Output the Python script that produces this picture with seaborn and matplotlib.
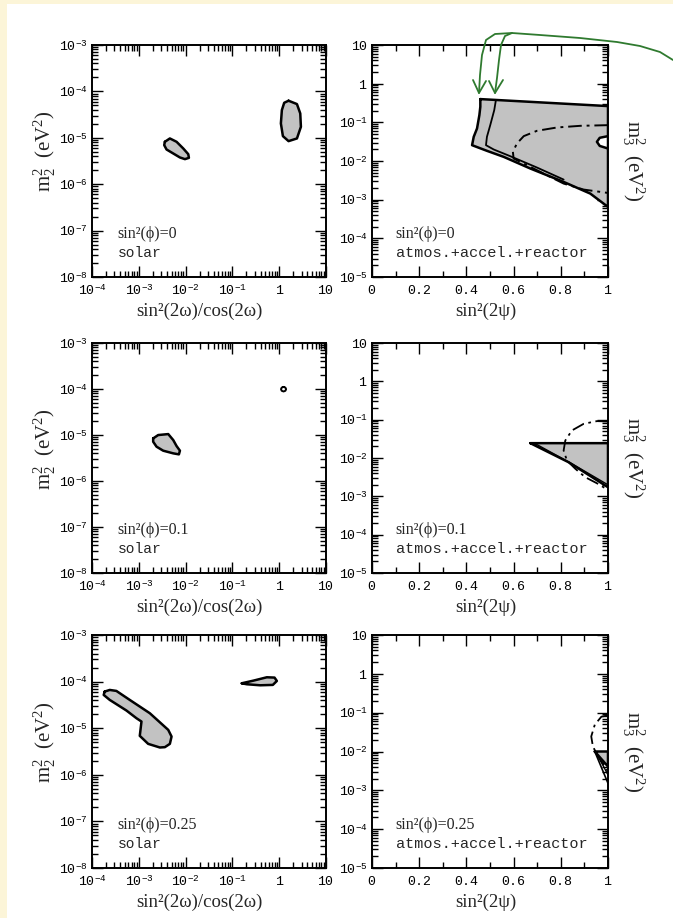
import numpy as np
import pandas as pd
import matplotlib
matplotlib.use("Agg")
import matplotlib.pyplot as plt
import matplotlib.ticker as mticker
from matplotlib.lines import Line2D
from matplotlib.patches import Rectangle
import seaborn as sns

# ---------------- data (log10 values where noted) ----------------
phi_labels = ["sin\u00b2(\u03d5)=0", "sin\u00b2(\u03d5)=0.1", "sin\u00b2(\u03d5)=0.25"]

# solar panels: regions in log10(sin^2 2w / cos 2w), log10(m2^2)
solar0_a_lx = [-2.443, -2.336, -2.193, -2.05, -1.943, -1.929, -2.014, -2.121, -2.264, -2.407, -2.457]
solar0_a_ly = [-5.086, -5.014, -5.086, -5.230, -5.353, -5.432, -5.460, -5.424, -5.338, -5.252, -5.158]
solar0_b_lx = [0.2, 0.379, 0.45, 0.464, 0.379, 0.2, 0.079, 0.036, 0.057, 0.107]
solar0_b_ly = [-4.201, -4.273, -4.475, -4.763, -5.014, -5.072, -4.964, -4.691, -4.403, -4.245]

solar1_a_lx = [-2.693, -2.586, -2.371, -2.264, -2.193, -2.121, -2.143, -2.264, -2.479, -2.621, -2.693]
solar1_a_ly = [-5.074, -5.001, -4.980, -5.110, -5.240, -5.341, -5.421, -5.399, -5.341, -5.254, -5.146]
solar1_ring_lx = [0.093, 0.132, 0.148, 0.132, 0.093, 0.054, 0.038, 0.054]
solar1_ring_ly = [-3.954, -3.969, -4.004, -4.039, -4.054, -4.039, -4.004, -3.969]

solar2_a_lx = [-3.729, -3.621, -3.479, -3.193, -2.764, -2.371, -2.300, -2.336, -2.443, -2.550,
               -2.800, -2.979, -2.943, -3.050, -3.264, -3.621, -3.750]
solar2_a_ly = [-4.214, -4.179, -4.200, -4.393, -4.679, -5.036, -5.179, -5.336, -5.407, -5.414,
               -5.336, -5.164, -4.857, -4.786, -4.621, -4.393, -4.286]
solar2_b_lx = [-0.8, -0.55, -0.264, -0.1, -0.05, -0.136, -0.407, -0.693]
solar2_b_ly = [-4.036, -3.979, -3.907, -3.914, -3.986, -4.071, -4.079, -4.057]

# atmos.+accel.+reactor panels: sin^2(2psi), log10(m3^2)
atm0_fill_x = [0.459, 1.0, 1.0, 0.925, 0.812, 0.671, 0.558, 0.487, 0.424, 0.431, 0.445, 0.455, 0.459]
atm0_fill_ly = [-0.399, -0.580, -3.188, -2.843, -2.541, -2.195, -1.893, -1.737, -1.591, -1.375, -1.159, -0.813, -0.598]
atm0_hole_x = [1.0, 0.965, 0.953, 0.965, 1.0]
atm0_hole_ly = [-1.357, -1.40, -1.504, -1.61, -1.677]
atm0_inner_x = [0.525, 0.518, 0.501, 0.487, 0.483, 0.516, 0.586, 0.699, 0.812]
atm0_inner_ly = [-0.425, -0.684, -1.073, -1.375, -1.591, -1.703, -1.876, -2.169, -2.480]
atm0_dd_x = [1.0, 0.883, 0.784, 0.699, 0.643, 0.614, 0.597, 0.600, 0.643, 0.727, 0.812, 0.897, 1.0]
atm0_dd_ly = [-1.073, -1.090, -1.133, -1.219, -1.357, -1.547, -1.763, -1.936, -2.066, -2.325, -2.584, -2.739, -2.826]

atm1_fill_x = [0.671, 1.0, 1.0, 0.833, 0.671]
atm1_fill_ly = [-1.613, -1.613, -2.763, -2.110, -1.613]
atm1_inner_x = [0.688, 0.85, 1.0]
atm1_inner_ly = [-1.613, -2.16, -2.70]
atm1_dd_x = [1.0, 0.953, 0.897, 0.847, 0.819, 0.812, 0.826, 0.862, 0.904, 0.953, 1.0]
atm1_dd_ly = [-1.047, -1.038, -1.108, -1.282, -1.544, -1.805, -2.066, -2.284, -2.502, -2.659, -2.833]

atm2_fill_x = [0.944, 1.0, 1.0, 0.944]
atm2_fill_ly = [-2.0, -2.0, -2.388, -2.0]
atm2_inner_x = [0.944, 1.0]
atm2_inner_ly = [-2.0, -2.819]
atm2_inner2_x = [0.95, 1.0]
atm2_inner2_ly = [-2.03, -2.603]
atm2_dd_x = [1.0, 0.972, 0.944, 0.929, 0.936, 0.958, 0.986, 1.0]
atm2_dd_ly = [-1.069, -1.103, -1.310, -1.612, -1.871, -2.129, -2.388, -2.517]

left_xticks_exp = [-4, -3, -2, -1, 0, 1]
left_yticks_exp = [-8, -7, -6, -5, -4, -3]
right_yticks_exp = [-5, -4, -3, -2, -1, 0, 1]
right_xticks = [0, 0.2, 0.4, 0.6, 0.8, 1]

# ---------------- style ----------------
sns.set_theme(style="ticks")
plt.rcParams["font.family"] = ["Liberation Serif", "DejaVu Serif"]
plt.rcParams["mathtext.fontset"] = "custom"
plt.rcParams["mathtext.rm"] = "Liberation Serif"
plt.rcParams["mathtext.it"] = "Liberation Serif:italic"
plt.rcParams["mathtext.bf"] = "Liberation Serif:bold"
plt.rcParams["mathtext.tt"] = "Liberation Mono"

FILL = "#c2c2c2"
LW = 1.8

fig = plt.figure(figsize=(6.73, 9.18), dpi=100)
fig.patch.set_facecolor("white")
# cream page margins
fig.add_artist(Rectangle((0, 0), 7 / 673, 1, transform=fig.transFigure, color="#fcf5d8", lw=0, zorder=0))
fig.add_artist(Rectangle((0, 1 - 4 / 918), 1, 4 / 918, transform=fig.transFigure, color="#fcf5d8", lw=0, zorder=0))


def exp_label(n):
    if n == 0:
        return r"$\mathtt{1}$"
    if n == 1:
        return r"$\mathtt{10}$"
    return r"$\mathtt{10}^{\mathtt{%d}}$" % n


def style_axis(ax):
    ax.tick_params(which="both", direction="in", top=True, right=True, width=1.0,
                   labelsize=9.5, colors="black")
    ax.tick_params(which="major", length=8)
    ax.tick_params(axis="y", which="major", pad=3)
    ax.tick_params(axis="x", which="major", pad=5)
    ax.tick_params(which="minor", length=4)
    for s in ax.spines.values():
        s.set_linewidth(1.4)
        s.set_color("black")
    ax.set_facecolor("white")


def outline(ax, xs, ys, close=True, **kw):
    xs = list(xs)
    ys = list(ys)
    if close:
        xs = xs + [xs[0]]
        ys = ys + [ys[0]]
    df = pd.DataFrame({"x": xs, "y": ys})
    sns.lineplot(data=df, x="x", y="y", sort=False, estimator=None, ax=ax,
                 color="black", **kw)


def region(ax, lx, ly, log_x=True, face=FILL, lw=LW):
    xs = [10 ** v for v in lx] if log_x else list(lx)
    ys = [10 ** v for v in ly]
    ax.fill(xs, ys, color=face, lw=0, zorder=1)
    outline(ax, xs, ys, lw=lw, zorder=3)


def line(ax, x, ly, dashed=False, lw=1.2):
    ys = [10 ** v for v in ly]
    if dashed:
        outline(ax, x, ys, close=False, lw=lw, dashes=(7, 2.5, 1.5, 2.5), zorder=4)
    else:
        outline(ax, x, ys, close=False, lw=lw, zorder=4)


W = 234 / 673
lefts = [92 / 673, 372 / 673]
rows = [(641 / 918, 232 / 918), (345 / 918, 230 / 918), (50 / 918, 233 / 918)]

solar_sets = [
    [(solar0_a_lx, solar0_a_ly, FILL, LW), (solar0_b_lx, solar0_b_ly, FILL, LW)],
    [(solar1_a_lx, solar1_a_ly, FILL, LW), (solar1_ring_lx, solar1_ring_ly, "white", 1.4)],
    [(solar2_a_lx, solar2_a_ly, FILL, LW), (solar2_b_lx, solar2_b_ly, FILL, LW)],
]

for r, (b, h) in enumerate(rows):
    # ---- left (solar) ----
    ax = fig.add_axes([lefts[0], b, W, h])
    ax.set_xscale("log")
    ax.set_yscale("log")
    ax.set_xlim(1e-4, 10)
    ax.set_ylim(1e-8, 1e-3)
    for lx, ly, face, lw in solar_sets[r]:
        region(ax, lx, ly, log_x=True, face=face, lw=lw)
    ax.xaxis.set_major_locator(mticker.FixedLocator([10.0 ** e for e in left_xticks_exp]))
    ax.xaxis.set_major_formatter(mticker.FixedFormatter([exp_label(e) for e in left_xticks_exp]))
    ax.yaxis.set_major_locator(mticker.FixedLocator([10.0 ** e for e in left_yticks_exp]))
    ax.yaxis.set_major_formatter(mticker.FixedFormatter([exp_label(e) for e in left_yticks_exp]))
    ax.xaxis.set_minor_locator(mticker.LogLocator(base=10, subs=np.arange(2, 10), numticks=20))
    ax.yaxis.set_minor_locator(mticker.LogLocator(base=10, subs=np.arange(2, 10), numticks=20))
    ax.xaxis.set_minor_formatter(mticker.NullFormatter())
    ax.yaxis.set_minor_formatter(mticker.NullFormatter())
    style_axis(ax)
    ax.set_xlabel("sin\u00b2(2\u03c9)/cos(2\u03c9)", fontsize=13.5)
    ax.xaxis.set_label_coords(0.46, -0.112)
    ax.set_ylabel(r"$\mathrm{m}_2^2\ \ (\mathrm{eV}^2)$", fontsize=15)
    ax.yaxis.set_label_coords(-0.145, 0.54)
    ax.text(0.107, 0.168, phi_labels[r], transform=ax.transAxes, fontsize=11.5,
            ha="left", va="baseline")
    ax.text(0.11, 0.086, "solar", transform=ax.transAxes, fontsize=10.5,
            family="Liberation Mono", ha="left", va="baseline")

    # ---- right (atmos.+accel.+reactor) ----
    ax2 = fig.add_axes([lefts[1], b, W + 2 / 673, h])
    ax2.set_yscale("log")
    ax2.set_xlim(0, 1)
    ax2.set_ylim(1e-5, 10)
    if r == 0:
        region(ax2, atm0_fill_x, atm0_fill_ly, log_x=False)
        hy = [10 ** v for v in atm0_hole_ly]
        ax2.fill(atm0_hole_x, hy, color="white", lw=0, zorder=2)
        outline(ax2, atm0_hole_x, hy, close=False, lw=LW, zorder=3)
        line(ax2, atm0_inner_x, atm0_inner_ly, lw=1.3)
        line(ax2, atm0_dd_x, atm0_dd_ly, dashed=True, lw=1.4)
    elif r == 1:
        region(ax2, atm1_fill_x, atm1_fill_ly, log_x=False)
        line(ax2, atm1_inner_x, atm1_inner_ly, lw=1.0)
        line(ax2, atm1_dd_x, atm1_dd_ly, dashed=True, lw=1.3)
    else:
        region(ax2, atm2_fill_x, atm2_fill_ly, log_x=False)
        line(ax2, atm2_inner_x, atm2_inner_ly, lw=1.2)
        line(ax2, atm2_inner2_x, atm2_inner2_ly, lw=1.0)
        line(ax2, atm2_dd_x, atm2_dd_ly, dashed=True, lw=1.3)
    ax2.xaxis.set_major_locator(mticker.FixedLocator(right_xticks))
    ax2.xaxis.set_major_formatter(mticker.FixedFormatter(
        [r"$\mathtt{%s}$" % ("0" if v == 0 else ("1" if v == 1 else "%.1f" % v)) for v in right_xticks]))
    ax2.xaxis.set_minor_locator(mticker.MultipleLocator(0.1))
    ax2.yaxis.set_major_locator(mticker.FixedLocator([10.0 ** e for e in right_yticks_exp]))
    ax2.yaxis.set_major_formatter(mticker.FixedFormatter([exp_label(e) for e in right_yticks_exp]))
    ax2.yaxis.set_minor_locator(mticker.LogLocator(base=10, subs=np.arange(2, 10), numticks=20))
    ax2.yaxis.set_minor_formatter(mticker.NullFormatter())
    style_axis(ax2)
    ax2.set_xlabel("sin\u00b2(2\u03c8)", fontsize=13.5)
    ax2.xaxis.set_label_coords(0.483, -0.112)
    ax2.set_ylabel("")
    ax2.text(1.05, 0.5, r"$\mathrm{m}_3^2\ \ (\mathrm{eV}^2)$", transform=ax2.transAxes,
             rotation=270, fontsize=15, ha="left", va="center")
    ax2.text(0.097, 0.168, phi_labels[r], transform=ax2.transAxes, fontsize=11.5,
             ha="left", va="baseline")
    ax2.text(0.1, 0.086, "atmos.+accel.+reactor", transform=ax2.transAxes, fontsize=11,
             family="Liberation Mono", ha="left", va="baseline")

# ---------------- hand-drawn green arrows (annotation) ----------------
def P(pts):
    return [p[0] / 673 for p in pts], [1 - p[1] / 918 for p in pts]

G = "#2f7a2f"
for pts in [
    [(673, 60), (660, 52), (640, 46), (617, 42), (580, 38), (540, 35), (512, 33), (505, 36), (501, 45), (499, 60), (497, 78), (495, 93)],
    [(512, 33), (495, 34), (486, 40), (482, 55), (480, 75), (479, 93)],
    [(473, 80), (479, 93), (486, 81)],
    [(489, 81), (495, 93), (503, 80)],
]:
    xs, ys = P(pts)
    fig.add_artist(Line2D(xs, ys, color=G, lw=1.3, transform=fig.transFigure, zorder=10))

fig.savefig("out.png", dpi=100, facecolor="white")
